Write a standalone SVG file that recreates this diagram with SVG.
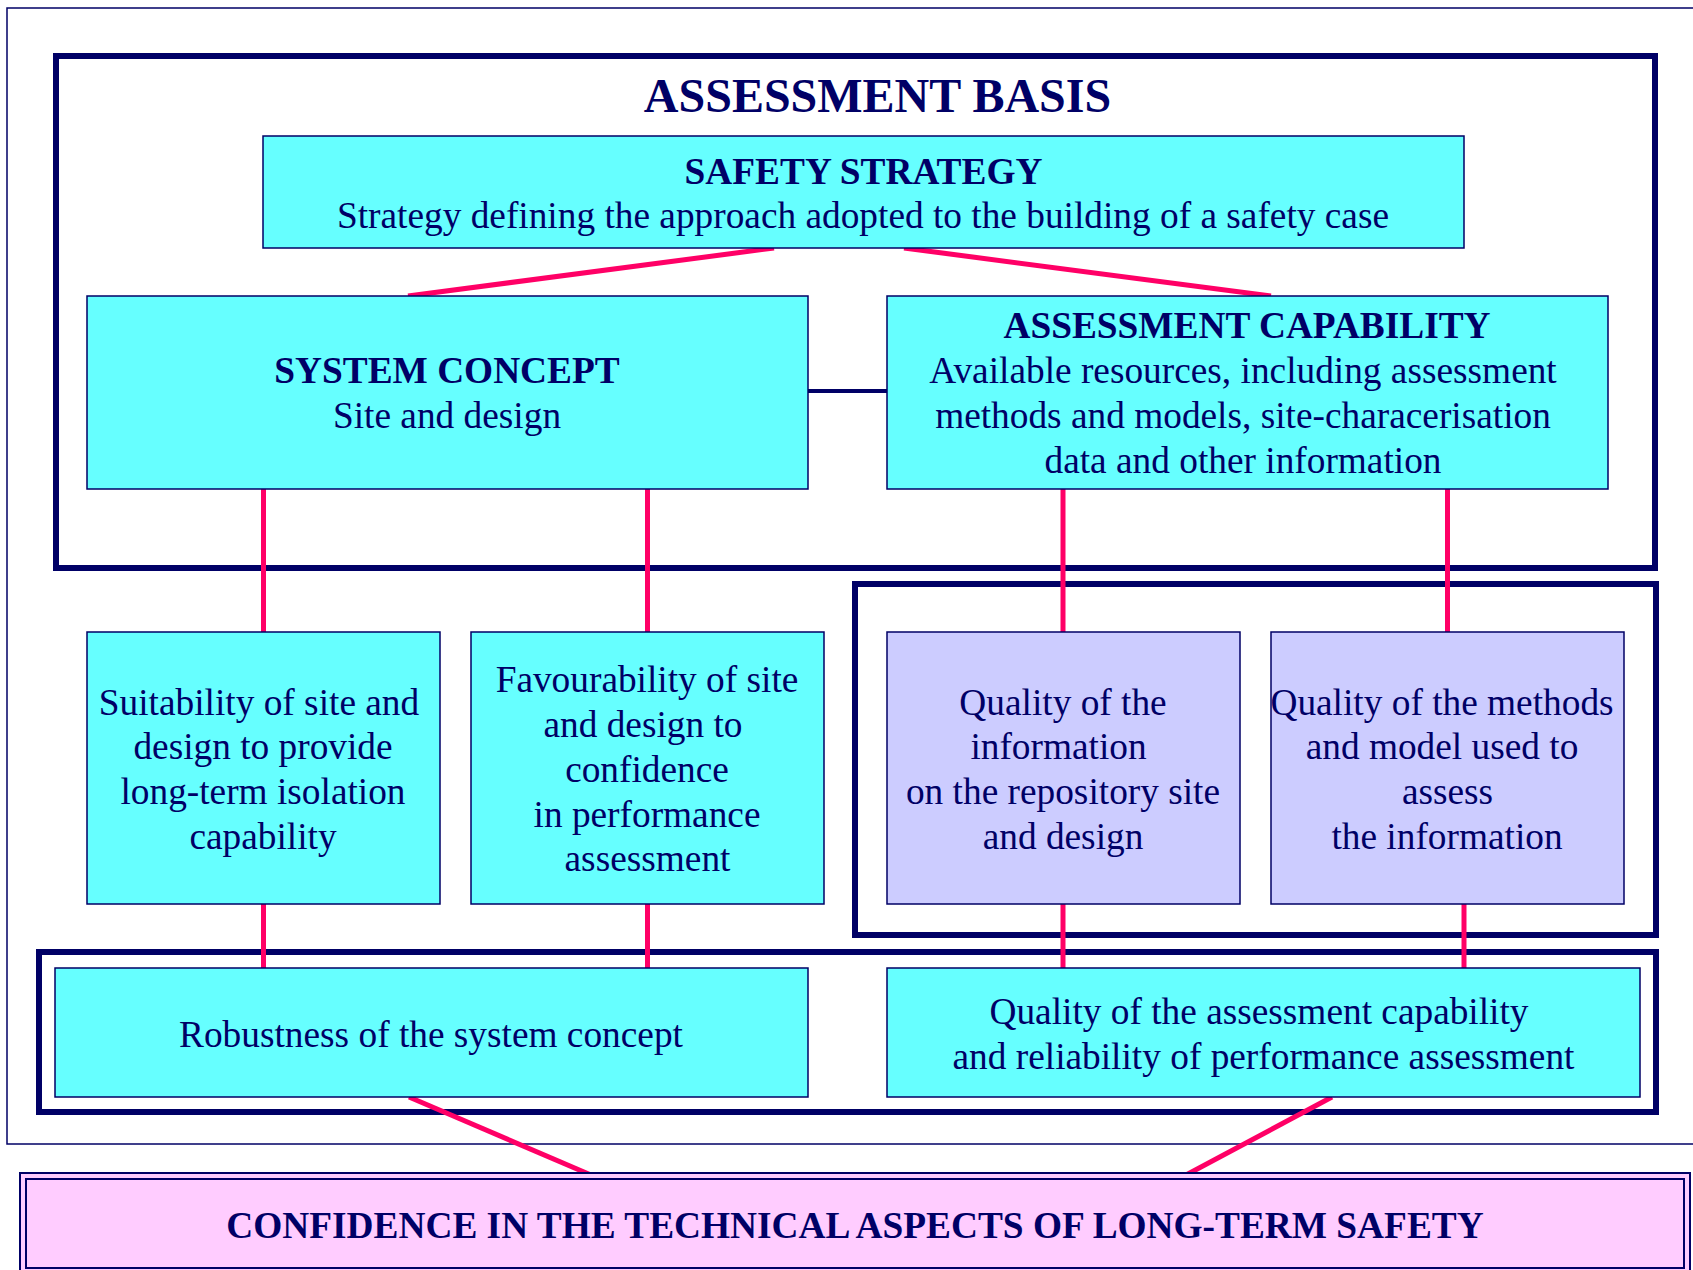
<svg xmlns="http://www.w3.org/2000/svg" width="1693" height="1270" viewBox="0 0 1693 1270">
<style>
.frame{fill:none;stroke:#000066;stroke-width:6}
.box{fill:#66FFFF;stroke:#000066;stroke-width:1.5}
.qbox{fill:#CCCCFF;stroke:#000066;stroke-width:1.5}
.pbox{fill:#FFCCFF;stroke:#000066;stroke-width:2}
.t{font-family:"Liberation Serif","Times New Roman",serif;font-size:37.33px;fill:#000066;text-anchor:middle}
.b{font-weight:bold}
.pink{stroke:#FF0066;stroke-width:5;fill:none}
</style>
<rect width="1693" height="1270" fill="#ffffff"/>
<g id="frames">
<rect x="7" y="8" width="1690" height="1136" fill="none" stroke="#000066" stroke-width="1.5"/>
<rect class="frame" x="56" y="56" width="1599" height="512"/>
<rect class="frame" x="855" y="584" width="801" height="351"/>
<rect class="frame" x="39" y="952" width="1617" height="160"/>
</g>
<g id="connectors">
<line class="pink" x1="774" y1="248" x2="408" y2="296"/>
<line class="pink" x1="904" y1="248" x2="1271" y2="296"/>
<line x1="808" y1="391" x2="887" y2="391" stroke="#000066" stroke-width="4"/>
<line class="pink" x1="263.5" y1="489" x2="263.5" y2="632"/>
<line class="pink" x1="647.5" y1="489" x2="647.5" y2="632"/>
<line class="pink" x1="1063" y1="489" x2="1063" y2="632"/>
<line class="pink" x1="1447.5" y1="489" x2="1447.5" y2="632"/>
<line class="pink" x1="263.5" y1="904" x2="263.5" y2="968"/>
<line class="pink" x1="647.5" y1="904" x2="647.5" y2="968"/>
<line class="pink" x1="1063" y1="904" x2="1063" y2="968"/>
<line class="pink" x1="1464" y1="904" x2="1464" y2="968"/>
<line class="pink" x1="409" y1="1097" x2="591" y2="1175"/>
<line class="pink" x1="1332" y1="1097" x2="1186" y2="1175"/>
</g>
<g id="title">
<text class="t b" x="877.5" y="112" style="font-size:48px">ASSESSMENT BASIS</text>
</g>
<g id="safety-strategy">
<rect class="box" x="263" y="136" width="1201" height="112"/>
<text class="t b" x="863.5" y="183.5">SAFETY STRATEGY</text>
<text class="t" x="863" y="228.3">Strategy defining the approach adopted to the building of a safety case</text>
</g>
<g id="system-concept">
<rect class="box" x="87" y="296" width="721" height="193"/>
<text class="t b" x="447" y="383.3">SYSTEM CONCEPT</text>
<text class="t" x="447" y="428.3">Site and design</text>
</g>
<g id="assessment-capability">
<rect class="box" x="887" y="296" width="721" height="193"/>
<text class="t b" x="1247" y="338.3">ASSESSMENT CAPABILITY</text>
<text class="t" x="1243" y="383.3">Available resources, including assessment</text>
<text class="t" x="1243" y="428.3">methods and models, site-characerisation</text>
<text class="t" x="1243" y="472.7">data and other information</text>
</g>
<g id="suitability">
<rect class="box" x="87" y="632" width="353" height="272"/>
<text class="t" x="259" y="714.8">Suitability of site and</text>
<text class="t" x="263" y="759.4">design to provide</text>
<text class="t" x="263" y="804">long-term isolation</text>
<text class="t" x="263" y="848.6">capability</text>
</g>
<g id="favourability">
<rect class="box" x="471" y="632" width="353" height="272"/>
<text class="t" x="647" y="692">Favourability of site</text>
<text class="t" x="643" y="737.4">and design to</text>
<text class="t" x="647" y="781.8">confidence</text>
<text class="t" x="647" y="826.6">in performance</text>
<text class="t" x="647.5" y="871">assessment</text>
</g>
<g id="quality-information">
<rect class="qbox" x="887" y="632" width="353" height="272"/>
<text class="t" x="1063" y="714.8">Quality of the</text>
<text class="t" x="1058.5" y="759.4">information</text>
<text class="t" x="1063" y="804">on the repository site</text>
<text class="t" x="1063" y="848.6">and design</text>
</g>
<g id="quality-methods">
<rect class="qbox" x="1271" y="632" width="353" height="272"/>
<text class="t" x="1442" y="714.8">Quality of the methods</text>
<text class="t" x="1442" y="759.4">and model used to</text>
<text class="t" x="1447.5" y="804">assess</text>
<text class="t" x="1447" y="848.6">the information</text>
</g>
<g id="robustness">
<rect class="box" x="55" y="968" width="753" height="129"/>
<text class="t" x="431" y="1047">Robustness of the system concept</text>
</g>
<g id="quality-assessment">
<rect class="box" x="887" y="968" width="753" height="129"/>
<text class="t" x="1259" y="1024">Quality of the assessment capability</text>
<text class="t" x="1263.5" y="1068.5">and reliability of performance assessment</text>
</g>
<g id="confidence">
<rect class="pbox" x="20" y="1173" width="1670" height="100"/>
<rect class="pbox" x="26" y="1179" width="1658" height="89"/>
<text class="t b" x="855" y="1238">CONFIDENCE IN THE TECHNICAL ASPECTS OF LONG-TERM SAFETY</text>
</g>
</svg>
